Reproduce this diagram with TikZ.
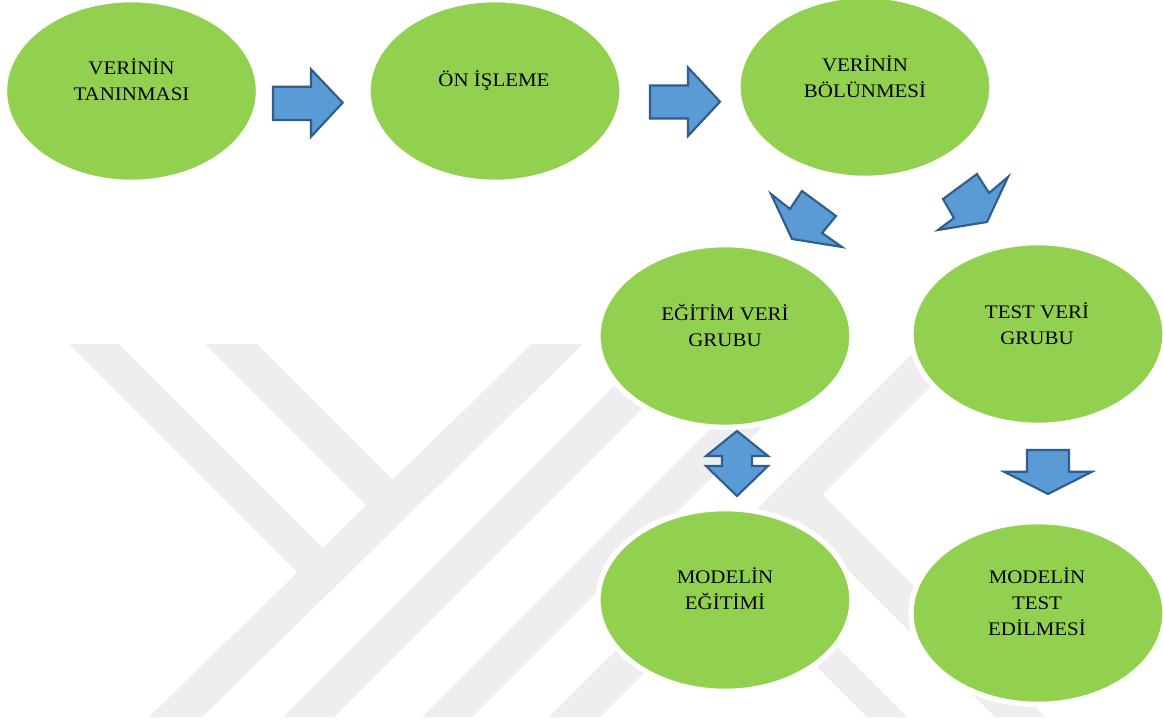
\documentclass[tikz,border=0pt]{standalone}
\usepackage{fontspec}
\setmainfont[FakeStretch=1.09]{Liberation Serif}
\usetikzlibrary{calc, shapes.geometric}
\definecolor{stagec}{HTML}{92D050}
\definecolor{arrc}{HTML}{5B9BD5}
\definecolor{arrl}{HTML}{2F5E8C}
\definecolor{wmc}{HTML}{EEEEEE}

\begin{document}
\begin{tikzpicture}[x=0.75pt, y=-0.75pt, font=\fontsize{14.4}{19.5}\selectfont,
	stage/.style={ellipse, fill=stagec, draw=white, line width=4pt, minimum width=190.5pt, minimum height=137pt, inner sep=0pt},
	lbl/.style={align=center, inner sep=0pt},
	blk/.style={fill=arrc, draw=arrl, line width=1.6pt, line join=miter},
	wm/.style={fill=wmc},]
	 \fill[white] (0,0) rectangle (1163,725);
	 \useasboundingbox (0,0) rectangle (1163,725);

	 % watermark
	 \fill[wm] (532,344) -- (583,344) -- (202,717) -- (149,717) -- cycle;
	 \fill[wm] (69,344) -- (119,344) -- (335,560) -- (305,580) -- cycle;
	 \fill[wm] (205,344) -- (257,344) -- (403,490) -- (376,515) -- cycle;
	 \fill[wm] (656,344) -- (707,344) -- (334,717) -- (283,717) -- cycle;
	 \fill[wm] (795,344) -- (845,344) -- (472,717) -- (422,717) -- cycle;
	 \fill[wm] (922,344) -- (973,344) -- (600,717) -- (549,717) -- cycle;
	 \fill[wm] (822,494) -- (1045,717) -- (995,717) -- (790,512) -- cycle;
	 \fill[wm] (745,555) -- (907,717) -- (867,717) -- (725,575) -- cycle;

	 \node[stage] (tanima) at (131.5,91) {};
	 \node[stage] (onisleme) at (495,91) {};
	 \node[stage] (bolunme) at (865,87) {};
	 \node[stage] (egitimveri) at (725,336) {};
	 \node[stage] (testveri) at (1038,334) {};
	 \node[stage] (egitim) at (725,600) {};
	 \node[stage] (testmodel) at (1038,613) {};

	 \node[lbl] (tanimat) at ($(tanima.center)+(0,-9)$) {\strut VERİNİN\\\strut TANINMASI};
	 \node[lbl] (onislemet) at ($(onisleme.center)+(-1,-9.5)$) {\strut ÖN İŞLEME};
	 \node[lbl] (bolunmet) at ($(bolunme.center)+(0,-8)$) {\strut VERİNİN\\\strut BÖLÜNMESİ};
	 \node[lbl] (egitimverit) at ($(egitimveri.center)+(0,-8)$) {\strut EĞİTİM VERİ\\\strut GRUBU};
	 \node[lbl] (testverit) at ($(testveri.center)+(-1,-8)$) {\strut TEST VERİ\\\strut GRUBU};
	 \node[lbl] (egitimt) at ($(egitim.center)+(0,-9)$) {\strut MODELİN\\\strut EĞİTİMİ};
	 \node[lbl] (testmodelt) at ($(testmodel.center)+(-1,-9)$) {\strut MODELİN\\\strut TEST\\\strut EDİLMESİ};

	 % block arrows
	 \draw[blk] (273,86.7) -- (311,86.7) -- (311,69.3) -- (342.7,102.7) -- (311,136.7) -- (311,120) -- (273,120) -- cycle;
	 \draw[blk] (650,85.5) -- (688,85.5) -- (688,67.5) -- (720,101.7) -- (688,136) -- (688,118.5) -- (650,118.5) -- cycle;
	 \draw[blk] (771,194) -- (790,209) -- (802,191) -- (836,216) -- (822,233) -- (842,247) -- (792,239) -- cycle;
	 \draw[blk] (943,199) -- (977,174) -- (989,193) -- (1008,177) -- (987,222) -- (938,230) -- (954,218) -- cycle;
	 \draw[blk] (737,431) -- (768,456) -- (752,456) -- (752,466) -- (768,466) -- (737,496) -- (706,466) -- (722,466) -- (722,456) -- (706,456) -- cycle;
	 \draw[blk] (1027,450) -- (1069,450) -- (1069,471.7) -- (1092,471.7) -- (1048,494) -- (1004,471.7) -- (1027,471.7) -- cycle;

\end{tikzpicture}
\end{document}
